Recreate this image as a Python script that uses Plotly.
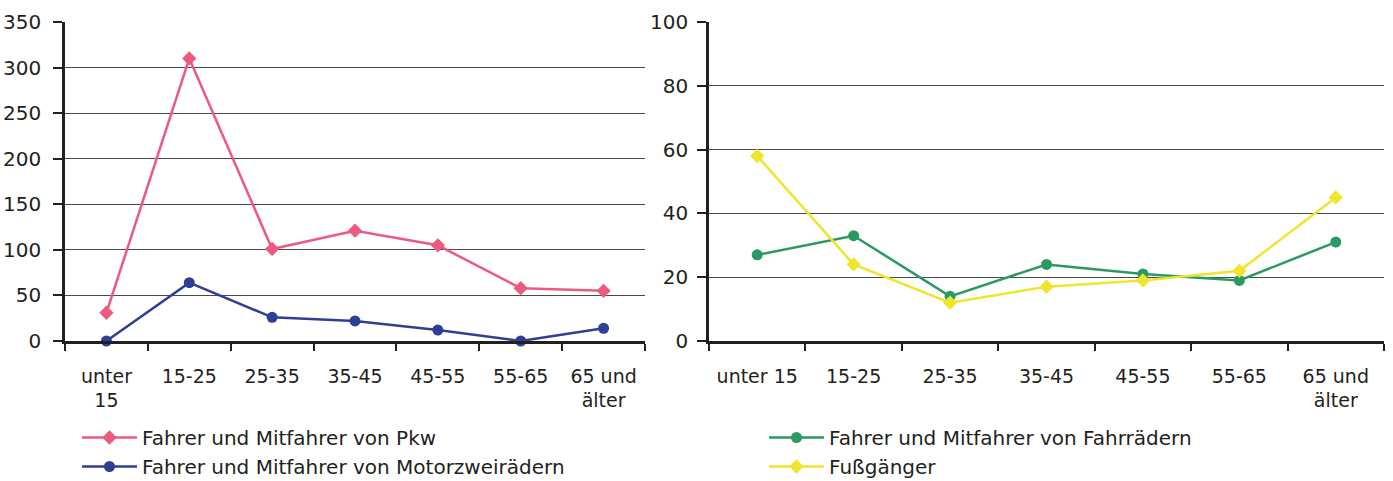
import plotly.graph_objects as go

cats_left = ["unter<br>15", "15-25", "25-35", "35-45", "45-55", "55-65", "65 und<br>älter"]
cats_right = ["unter 15", "15-25", "25-35", "35-45", "45-55", "55-65", "65 und<br>älter"]

pkw = [31, 310, 101, 121, 105, 58, 55]
motor = [0, 64, 26, 22, 12, 0, 14]
fahrrad = [27, 33, 14, 24, 21, 19, 31]
fuss = [58, 24, 12, 17, 19, 22, 45]

name_pkw = "Fahrer und Mitfahrer von Pkw"
name_motor = "Fahrer und Mitfahrer von Motorzweirädern"
name_rad = "Fahrer und Mitfahrer von Fahrrädern"
name_fuss = "Fußgänger"

col_pkw = "#EC5A80"
col_motor = "#2E3F95"
col_rad = "#2A9A62"
col_fuss = "#EEE52C"

FONT = "DejaVu Sans"
TXT = "#231F20"

fig = go.Figure()
fig.add_trace(go.Scatter(x=cats_left, y=pkw, name=name_pkw, mode="lines+markers",
                         line=dict(color=col_pkw, width=2.5),
                         marker=dict(symbol="diamond", size=11, color=col_pkw),
                         cliponaxis=False, xaxis="x", yaxis="y", legend="legend"))
fig.add_trace(go.Scatter(x=cats_left, y=motor, name=name_motor, mode="lines+markers",
                         line=dict(color=col_motor, width=2.5),
                         marker=dict(symbol="circle", size=11, color=col_motor),
                         cliponaxis=False, xaxis="x", yaxis="y", legend="legend"))
fig.add_trace(go.Scatter(x=cats_right, y=fahrrad, name=name_rad, mode="lines+markers",
                         line=dict(color=col_rad, width=2.5),
                         marker=dict(symbol="circle", size=11, color=col_rad),
                         cliponaxis=False, xaxis="x2", yaxis="y2", legend="legend2"))
fig.add_trace(go.Scatter(x=cats_right, y=fuss, name=name_fuss, mode="lines+markers",
                         line=dict(color=col_fuss, width=2.5),
                         marker=dict(symbol="diamond", size=11, color=col_fuss),
                         cliponaxis=False, xaxis="x2", yaxis="y2", legend="legend2"))

W, H = 1393, 481

def sx(px):
    return px / W

def sy(py):
    return (H - py) / H

def xax(domain):
    return dict(domain=domain, type="category", range=[-0.5, 6.5], tickson="boundaries",
                ticks="outside", ticklen=7, tickwidth=2, tickcolor="#231F20",
                showline=True, linecolor="#231F20", linewidth=2.5,
                showgrid=False, zeroline=False, fixedrange=True,
                tickfont=dict(family=FONT, size=19, color=TXT), ticklabelstandoff=16)

def yax(domain, rng, dtick, anchor, standoff):
    return dict(domain=domain, range=rng, dtick=dtick, anchor=anchor,
                ticks="outside", ticklen=9, tickwidth=2, tickcolor="#231F20",
                showline=True, linecolor="#231F20", linewidth=2.5,
                showgrid=True, gridcolor="#4a4a4a", gridwidth=1, zeroline=False,
                fixedrange=True,
                tickfont=dict(family=FONT, size=20, color=TXT), ticklabelstandoff=standoff)

ydom = [sy(341), sy(22)]
fig.update_layout(
    width=W, height=H,
    margin=dict(l=0, r=0, t=0, b=0, autoexpand=False),
    paper_bgcolor="white", plot_bgcolor="white",
    font=dict(family=FONT, size=20, color=TXT),
    xaxis=dict(**xax([sx(65), sx(645)]), anchor="y"),
    yaxis=yax(ydom, [0, 350], 50, "x", 8),
    xaxis2=dict(**xax([sx(709), sx(1384)]), anchor="y2"),
    yaxis2=yax(ydom, [0, 100], 20, "x2", 5),
    legend=dict(x=sx(77), y=sy(418), xanchor="left", yanchor="top",
                bgcolor="rgba(0,0,0,0)", itemwidth=55, tracegroupgap=0,
                font=dict(family=FONT, size=20, color=TXT)),
    legend2=dict(x=sx(764), y=sy(418), xanchor="left", yanchor="top",
                 bgcolor="rgba(0,0,0,0)", itemwidth=55, tracegroupgap=0,
                 font=dict(family=FONT, size=20, color=TXT)),
    showlegend=True,
)

fig.write_html("out.html", config={"displayModeBar": False},
               post_script="document.body.style.margin='0';")
